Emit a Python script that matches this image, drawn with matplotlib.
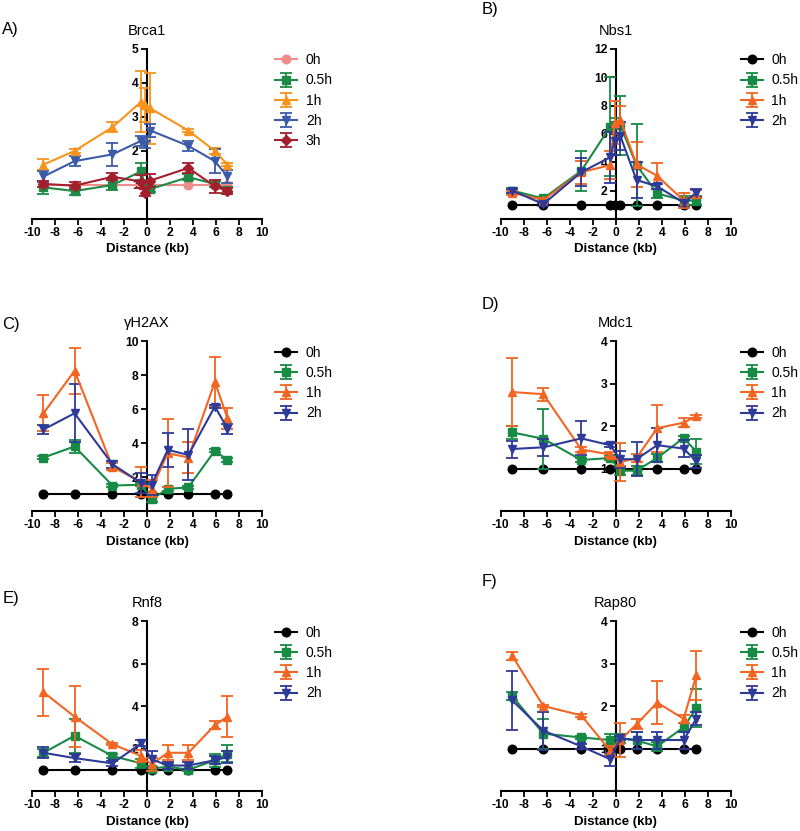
import matplotlib
matplotlib.use("Agg")
import matplotlib.pyplot as plt

plt.rcParams["font.family"] = ["Liberation Sans", "DejaVu Sans"]

"""
data
"""

labels4 = ["0h", "0.5h", "1h", "2h"]
labels5 = ["0h", "0.5h", "1h", "2h", "3h"]
x_ticks = [-10, -8, -6, -4, -2, 0, 2, 4, 6, 8, 10]

# Brca1
brca_x = [-9, -6.3, -3, -0.5, -0.2, 0.3, 3.6, 5.9, 7]
brca_0h = [1, 1, 1, 1, 1, 1, 1, 1, 1]
brca_05h = [0.93, 0.82, 1.0, 1.4, 1.0, 0.88, 1.23, 1.03, 0.85]
brca_05h_err = [0.2, 0.12, 0.15, 0.25, 0.1, 0.1, 0.08, 0.1, 0.1]
brca_1h = [1.6, 2.0, 2.7, 3.45, 3.35, 3.25, 2.6, 2.0, 1.6]
brca_1h_err = [0.15, 0.05, 0.15, 0.9, 0.5, 1.05, 0.05, 0.1, 0.05]
brca_2h = [1.25, 1.7, 1.9, 2.3, 2.2, 2.6, 2.15, 1.7, 1.25]
brca_2h_err = [0.15, 0.15, 0.33, 0.15, 0.1, 0.2, 0.15, 0.35, 0.2]
brca_3h = [1.03, 0.98, 1.24, 1.1, 0.77, 1.13, 1.5, 0.96, 0.82]
brca_3h_err = [0.1, 0.1, 0.1, 0.2, 0.1, 0.2, 0.15, 0.2, 0.1]

# Nbs1
nbs_x = [-9, -6.3, -3, -0.5, -0.1, 0.4, 1.8, 3.6, 5.9, 7]
nbs_0h = [1, 1, 1, 1, 1, 1, 1, 1, 1, 1]
nbs_05h = [2.0, 1.45, 3.4, 6.5, 6.6, 6.6, 3.8, 1.8, 1.3, 1.3]
nbs_05h_err = [0.2, 0.1, 1.4, 3.5, 0.5, 2.1, 2.9, 0.3, 0.3, 0.3]
nbs_1h = [1.85, 1.35, 3.3, 3.8, 6.8, 7.0, 3.85, 3.05, 1.3, 1.75]
nbs_1h_err = [0.15, 0.1, 0.8, 1.0, 1.5, 1.0, 1.6, 0.9, 0.5, 0.3]
nbs_2h = [2.0, 1.05, 3.3, 4.35, 5.5, 5.85, 2.75, 2.3, 1.15, 1.85]
nbs_2h_err = [0.15, 0.1, 1.0, 1.8, 1.0, 1.0, 1.3, 0.2, 0.2, 0.3]

# shared positions for the remaining panels
pos_x = [-9, -6.3, -3, -0.5, 0.4, 1.8, 3.6, 5.9, 7]
ones = [1, 1, 1, 1, 1, 1, 1, 1, 1]

# gH2AX
h2ax_05h = [3.15, 3.8, 1.5, 1.55, 0.7, 1.3, 1.4, 3.55, 3.0]
h2ax_05h_err = [0.1, 0.4, 0.1, 0.1, 0.15, 0.1, 0.1, 0.1, 0.1]
h2ax_1h = [5.75, 8.25, 2.6, 1.7, 1.3, 3.4, 3.15, 7.6, 5.45]
h2ax_1h_err = [1.05, 1.35, 0.2, 0.9, 0.5, 2.0, 0.9, 1.45, 0.6]
h2ax_2h = [4.8, 5.75, 2.75, 1.65, 1.55, 3.6, 3.3, 6.15, 4.85]
h2ax_2h_err = [0.25, 1.7, 0.2, 0.6, 0.6, 1.0, 1.5, 0.1, 0.3]

# Mdc1
mdc_05h = [1.85, 1.7, 1.2, 1.25, 0.95, 0.95, 1.25, 1.72, 1.4]
mdc_05h_err = [0.15, 0.7, 0.05, 0.05, 0.1, 0.1, 0.1, 0.05, 0.3]
mdc_1h = [2.8, 2.75, 1.45, 1.33, 1.15, 1.25, 1.95, 2.08, 2.23]
mdc_1h_err = [0.8, 0.15, 0.05, 0.05, 0.45, 0.1, 0.55, 0.1, 0.03]
mdc_2h = [1.46, 1.5, 1.71, 1.55, 1.22, 1.22, 1.55, 1.47, 1.17]
mdc_2h_err = [0.2, 0.2, 0.4, 0.05, 0.2, 0.4, 0.4, 0.2, 0.15]

# Rnf8
rnf_05h = [1.8, 2.6, 1.65, 1.3, 1.05, 1.15, 1.0, 1.45, 1.75]
rnf_05h_err = [0.2, 0.8, 0.1, 0.2, 0.1, 0.1, 0.05, 0.3, 0.4]
rnf_1h = [4.65, 3.5, 2.2, 1.65, 1.25, 1.8, 1.8, 3.1, 3.5]
rnf_1h_err = [1.1, 1.45, 0.05, 0.3, 0.3, 0.35, 0.35, 0.2, 0.95]
rnf_2h = [1.8, 1.55, 1.3, 2.25, 1.5, 1.2, 1.2, 1.45, 1.6]
rnf_2h_err = [0.25, 0.2, 0.1, 0.15, 0.4, 0.15, 0.15, 0.2, 0.3]

# Rap80
rap_05h = [2.23, 1.35, 1.26, 1.2, 1.24, 1.19, 1.05, 1.5, 1.95]
rap_05h_err = [0.1, 0.35, 0.03, 0.15, 0.1, 0.2, 0.1, 0.1, 0.45]
rap_1h = [3.18, 2.0, 1.78, 0.95, 1.2, 1.57, 2.08, 1.7, 2.72]
rap_1h_err = [0.1, 0.03, 0.03, 0.1, 0.4, 0.12, 0.5, 0.1, 0.57]
rap_2h = [2.13, 1.42, 1.05, 0.75, 1.24, 1.2, 1.2, 1.2, 1.7]
rap_2h_err = [0.7, 0.45, 0.05, 0.15, 0.05, 0.2, 0.2, 0.2, 0.15]

"""
style
"""

brca_colors = ["#F08C8C", "#1F8A45", "#F7941D", "#3B5BA9", "#A31F2E"]
colors = ["#000000", "#178A45", "#F26522", "#2E3A97"]
markers = ["o", "s", "^", "v", "D"]


def draw_panel(fig, rect, title, x, ys, errs, names, cols, ymax, yticks, leg_xy):
    ax = fig.add_axes(rect)
    for i, (y, e) in enumerate(zip(ys, errs)):
        ms = 5.5 if markers[i] == "D" else 6.2
        ax.errorbar(x, y, yerr=e, color=cols[i], marker=markers[i], ms=ms, lw=1.5,
                    elinewidth=1.3, capsize=4, capthick=1.3, label=names[i],
                    zorder=3 + i * 0.1, clip_on=False)

    ax.set_xlim(-10, 10)
    ax.set_ylim(0, ymax)
    ax.spines["left"].set_position(("data", 0))
    ax.spines["bottom"].set_position(("data", 0))
    for s in ["top", "right"]:
        ax.spines[s].set_visible(False)
    for s in ["left", "bottom"]:
        ax.spines[s].set_linewidth(1.5)
    ax.set_xticks(x_ticks)
    ax.set_xticklabels([str(t) for t in x_ticks], fontweight="bold")
    ax.set_yticks(yticks)
    ax.set_yticklabels([str(t) for t in yticks], fontweight="bold")
    ax.tick_params(labelsize=8.7, width=1.3, length=4, direction="out", pad=2)
    ax.set_xlabel("Distance (kb)", fontweight="bold", fontsize=9.5, labelpad=3)
    ax.set_title(title, fontsize=10.5, pad=10)

    ax.legend(loc="upper left", bbox_to_anchor=leg_xy, bbox_transform=fig.transFigure,
              frameon=False, fontsize=10, handlelength=1.6, handletextpad=0.6,
              labelspacing=0.45, borderpad=0, borderaxespad=0)
    return ax


fig = plt.figure(figsize=(8, 8.31), dpi=100)

col_l = [0.04, 0.626]
col_w = 0.2875
row_b = [0.7365, 0.385, 0.0481]
row_h = 0.2046
leg_x = [0.344, 0.926]
leg_y = [0.936, 0.584, 0.247]

draw_panel(fig, [col_l[0], row_b[0], col_w, row_h], "Brca1", brca_x,
           [brca_0h, brca_05h, brca_1h, brca_2h, brca_3h],
           [None, brca_05h_err, brca_1h_err, brca_2h_err, brca_3h_err],
           labels5, brca_colors, 5, [1, 2, 3, 4, 5], (leg_x[0], leg_y[0]))

draw_panel(fig, [col_l[1], row_b[0], col_w, row_h], "Nbs1", nbs_x,
           [nbs_0h, nbs_05h, nbs_1h, nbs_2h],
           [None, nbs_05h_err, nbs_1h_err, nbs_2h_err],
           labels4, colors, 12, [2, 4, 6, 8, 10, 12], (leg_x[1], leg_y[0]))

draw_panel(fig, [col_l[0], row_b[1], col_w, row_h], "γH2AX", pos_x,
           [ones, h2ax_05h, h2ax_1h, h2ax_2h],
           [None, h2ax_05h_err, h2ax_1h_err, h2ax_2h_err],
           labels4, colors, 10, [2, 4, 6, 8, 10], (leg_x[0], leg_y[1]))

draw_panel(fig, [col_l[1], row_b[1], col_w, row_h], "Mdc1", pos_x,
           [ones, mdc_05h, mdc_1h, mdc_2h],
           [None, mdc_05h_err, mdc_1h_err, mdc_2h_err],
           labels4, colors, 4, [1, 2, 3, 4], (leg_x[1], leg_y[1]))

draw_panel(fig, [col_l[0], row_b[2], col_w, row_h], "Rnf8", pos_x,
           [ones, rnf_05h, rnf_1h, rnf_2h],
           [None, rnf_05h_err, rnf_1h_err, rnf_2h_err],
           labels4, colors, 8, [2, 4, 6, 8], (leg_x[0], leg_y[2]))

draw_panel(fig, [col_l[1], row_b[2], col_w, row_h], "Rap80", pos_x,
           [ones, rap_05h, rap_1h, rap_2h],
           [None, rap_05h_err, rap_1h_err, rap_2h_err],
           labels4, colors, 4, [1, 2, 3, 4], (leg_x[1], leg_y[2]))

# panel letters
for txt, fx, fy in [("A)", 0.003, 0.965), ("B)", 0.602, 0.988), ("C)", 0.003, 0.61),
                    ("D)", 0.602, 0.634), ("E)", 0.003, 0.28), ("F)", 0.602, 0.30)]:
    fig.text(fx, fy, txt, fontsize=12, ha="left", va="center")

fig.savefig("out.png", dpi=100)
